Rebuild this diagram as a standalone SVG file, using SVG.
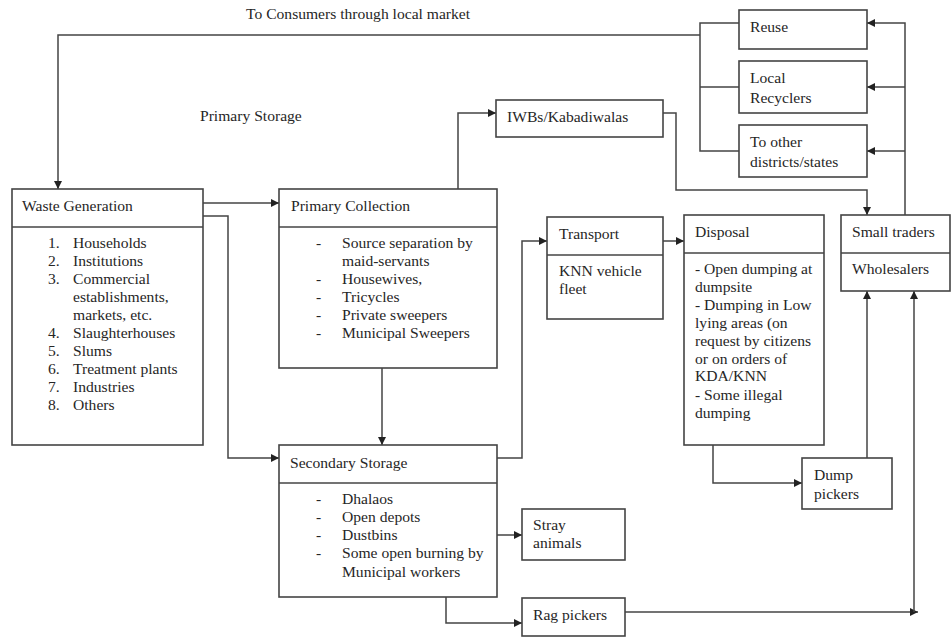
<svg xmlns="http://www.w3.org/2000/svg" width="952" height="638" viewBox="0 0 952 638">
<style>
  .box { fill: #fff; stroke: #444; stroke-width: 1.6; }
  .div { stroke: #444; stroke-width: 1.6; }
  .con { fill: none; stroke: #444; stroke-width: 1.5; }
  text { font-family: "Liberation Serif", "Times New Roman", serif; font-size: 15.6px; fill: #262626; }
</style>
<defs>
  <marker id="arr" viewBox="0 0 10 10" refX="10" refY="5" markerWidth="8" markerHeight="8" markerUnits="userSpaceOnUse" orient="auto">
    <path d="M0,0 L10,5 L0,10 z" fill="#222"/>
  </marker>
</defs>
<rect width="952" height="638" fill="#fff"/>

<text x="246" y="19">To Consumers through local market</text>
<text x="200" y="121">Primary Storage</text>

<g id="connectors">
  <path class="con" d="M700,35 H58 V189" marker-end="url(#arr)"/>
  <path class="con" d="M739,23 H700 V151 H739 M700,87 H739"/>
  <path class="con" d="M905,215 V23 H867" marker-end="url(#arr)"/>
  <path class="con" d="M905,87 H867" marker-end="url(#arr)"/>
  <path class="con" d="M905,151 H867" marker-end="url(#arr)"/>
  <path class="con" d="M203,203 H279" marker-end="url(#arr)"/>
  <path class="con" d="M203,216 H228 V458 H279" marker-end="url(#arr)"/>
  <path class="con" d="M382,368 V445" marker-end="url(#arr)"/>
  <path class="con" d="M458,189 V113 H496" marker-end="url(#arr)"/>
  <path class="con" d="M663,113 H676 V190 H867 V215" marker-end="url(#arr)"/>
  <path class="con" d="M497,458 H522 V241 H547" marker-end="url(#arr)"/>
  <path class="con" d="M663,241 H684" marker-end="url(#arr)"/>
  <path class="con" d="M713,445 V483 H802" marker-end="url(#arr)"/>
  <path class="con" d="M867,458 V291" marker-end="url(#arr)"/>
  <path class="con" d="M497,535 H522" marker-end="url(#arr)"/>
  <path class="con" d="M446,597 V623 H522" marker-end="url(#arr)"/>
  <path class="con" d="M625,612 H918" marker-end="url(#arr)"/>
  <path class="con" d="M914,612 V291" marker-end="url(#arr)"/>
</g>

<g id="waste-generation">
  <rect class="box" x="12" y="189" width="191" height="256"/>
  <line class="div" x1="12" y1="227" x2="203" y2="227"/>
  <text x="22" y="211">Waste Generation</text>
  <text x="48" y="248">1.</text><text x="73" y="248">Households</text>
  <text x="48" y="266">2.</text><text x="73" y="266">Institutions</text>
  <text x="48" y="284">3.</text><text x="73" y="284">Commercial</text>
  <text x="73" y="302">establishments,</text>
  <text x="73" y="320">markets, etc.</text>
  <text x="48" y="338">4.</text><text x="73" y="338">Slaughterhouses</text>
  <text x="48" y="356">5.</text><text x="73" y="356">Slums</text>
  <text x="48" y="374">6.</text><text x="73" y="374">Treatment plants</text>
  <text x="48" y="392">7.</text><text x="73" y="392">Industries</text>
  <text x="48" y="410">8.</text><text x="73" y="410">Others</text>
</g>

<g id="primary-collection">
  <rect class="box" x="279" y="189" width="218" height="179"/>
  <line class="div" x1="279" y1="227" x2="497" y2="227"/>
  <text x="291" y="211">Primary Collection</text>
  <text x="316" y="248">-</text><text x="342" y="248">Source separation by</text>
  <text x="342" y="266">maid-servants</text>
  <text x="316" y="284">-</text><text x="342" y="284">Housewives,</text>
  <text x="316" y="302">-</text><text x="342" y="302">Tricycles</text>
  <text x="316" y="320">-</text><text x="342" y="320">Private sweepers</text>
  <text x="316" y="338">-</text><text x="342" y="338">Municipal Sweepers</text>
</g>

<g id="secondary-storage">
  <rect class="box" x="279" y="445" width="218" height="152"/>
  <line class="div" x1="279" y1="483" x2="497" y2="483"/>
  <text x="290" y="468">Secondary Storage</text>
  <text x="316" y="504">-</text><text x="342" y="504">Dhalaos</text>
  <text x="316" y="522">-</text><text x="342" y="522">Open depots</text>
  <text x="316" y="540">-</text><text x="342" y="540">Dustbins</text>
  <text x="316" y="558">-</text><text x="342" y="558">Some open burning by</text>
  <text x="342" y="577">Municipal workers</text>
</g>

<g id="iwbs">
  <rect class="box" x="496" y="100" width="167" height="37"/>
  <text x="507" y="122">IWBs/Kabadiwalas</text>
</g>

<g id="reuse">
  <rect class="box" x="739" y="10" width="128" height="39"/>
  <text x="750" y="32">Reuse</text>
</g>

<g id="local-recyclers">
  <rect class="box" x="739" y="61" width="128" height="52"/>
  <text x="750" y="83">Local</text>
  <text x="750" y="103">Recyclers</text>
</g>

<g id="other-districts">
  <rect class="box" x="739" y="125" width="128" height="52"/>
  <text x="750" y="147">To other</text>
  <text x="750" y="167">districts/states</text>
</g>

<g id="transport">
  <rect class="box" x="547" y="217" width="116" height="102"/>
  <line class="div" x1="547" y1="255" x2="663" y2="255"/>
  <text x="559" y="239">Transport</text>
  <text x="559" y="276">KNN vehicle</text>
  <text x="559" y="294">fleet</text>
</g>

<g id="disposal">
  <rect class="box" x="684" y="215" width="140" height="230"/>
  <line class="div" x1="684" y1="253" x2="824" y2="253"/>
  <text x="695" y="237">Disposal</text>
  <text x="695" y="274">- Open dumping at</text>
  <text x="695" y="292">dumpsite</text>
  <text x="695" y="310">- Dumping in Low</text>
  <text x="695" y="328">lying areas (on</text>
  <text x="695" y="346">request by citizens</text>
  <text x="695" y="364">or on orders of</text>
  <text x="695" y="381">KDA/KNN</text>
  <text x="695" y="400">- Some illegal</text>
  <text x="695" y="418">dumping</text>
</g>

<g id="traders">
  <rect class="box" x="841" y="215" width="109" height="76"/>
  <line class="div" x1="841" y1="253" x2="950" y2="253"/>
  <text x="852" y="237">Small traders</text>
  <text x="852" y="274">Wholesalers</text>
</g>

<g id="dump-pickers">
  <rect class="box" x="802" y="458" width="90" height="51"/>
  <text x="814" y="480">Dump</text>
  <text x="814" y="499">pickers</text>
</g>

<g id="stray-animals">
  <rect class="box" x="522" y="509" width="103" height="51"/>
  <text x="533" y="530">Stray</text>
  <text x="533" y="548">animals</text>
</g>

<g id="rag-pickers">
  <rect class="box" x="522" y="598" width="103" height="38"/>
  <text x="533" y="620">Rag pickers</text>
</g>
</svg>
